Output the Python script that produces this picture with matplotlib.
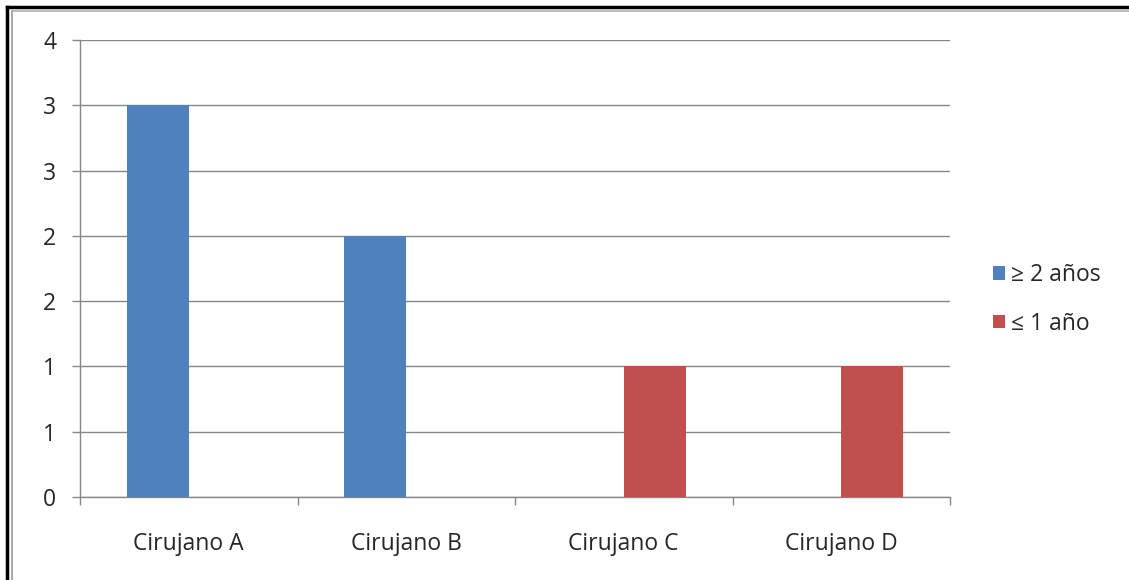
import math
import matplotlib
matplotlib.use("Agg")
import matplotlib.pyplot as plt
from matplotlib.ticker import FuncFormatter, MultipleLocator
from matplotlib.patches import Patch
from matplotlib.lines import Line2D

plt.rcParams['font.family'] = ['Open Sans', 'DejaVu Sans']

categories = ["Cirujano A", "Cirujano B", "Cirujano C", "Cirujano D"]
series_names = ["\u2265 2 a\u00f1os", "\u2264 1 a\u00f1o"]
senior = [3, 2, 0, 0]
junior = [0, 0, 1, 1]
colors = ["#4F81BD", "#C0504D"]

fig = plt.figure(figsize=(11.29, 5.80), dpi=100)
W, H = 1129, 580
ax = fig.add_axes([80 / W, 1 - 497 / H, 870 / W, 457 / H])

bar_w = 1 / 3.5
xs = list(range(len(categories)))
ax.bar([x - bar_w / 2 for x in xs], senior, width=bar_w, color=colors[0], zorder=3)
ax.bar([x + bar_w / 2 for x in xs], junior, width=bar_w, color=colors[1], zorder=3)

ax.set_xlim(-0.5, len(categories) - 0.5)
ax.set_ylim(0, 3.5)
ax.yaxis.set_major_locator(MultipleLocator(0.5))
ax.yaxis.set_major_formatter(FuncFormatter(lambda v, p: f"{int(math.floor(v + 0.5))}"))
ax.grid(axis='y', color='#878787', linewidth=1.0, zorder=0)
ax.set_axisbelow(True)

ax.set_xticks([x - 0.5 for x in xs] + [len(categories) - 0.5])
ax.set_xticklabels([])
ax.set_xticks(xs, minor=True)
ax.set_xticklabels(categories, minor=True)
ax.tick_params(axis='x', which='minor', length=0, pad=25, labelsize=16.5, labelcolor='#262626')
ax.tick_params(axis='x', which='major', length=6, color='#878787', width=1)
ax.tick_params(axis='y', length=6, color='#878787', width=1, pad=11, labelsize=16.5, labelcolor='#262626')

for s in ['top', 'right']:
    ax.spines[s].set_visible(False)
for s in ['left', 'bottom']:
    ax.spines[s].set_color('#878787')
    ax.spines[s].set_linewidth(1.0)

handles = [Patch(facecolor=c, edgecolor='none') for c in colors]
fig.legend(handles, series_names, loc='center left', bbox_to_anchor=(972 / W, 1 - 299.5 / H),
           frameon=False, fontsize=16.5, handlelength=0.55, handleheight=0.55,
           handletextpad=0.25, labelspacing=1.05, labelcolor='#262626')

# frame lines along top and left edge
fig.add_artist(Line2D([7 / W, 7 / W], [0, 1 - 7 / H], color='black', linewidth=2.5))
fig.add_artist(Line2D([7 / W, 1], [1 - 7 / H, 1 - 7 / H], color='black', linewidth=2.5))
fig.add_artist(Line2D([12 / W, 12 / W], [0, 1 - 11 / H], color='#9a9a9a', linewidth=1.2))
fig.add_artist(Line2D([12 / W, 1], [1 - 10.5 / H, 1 - 10.5 / H], color='#b0b0b0', linewidth=1.2))

fig.savefig("out.png", dpi=100)
